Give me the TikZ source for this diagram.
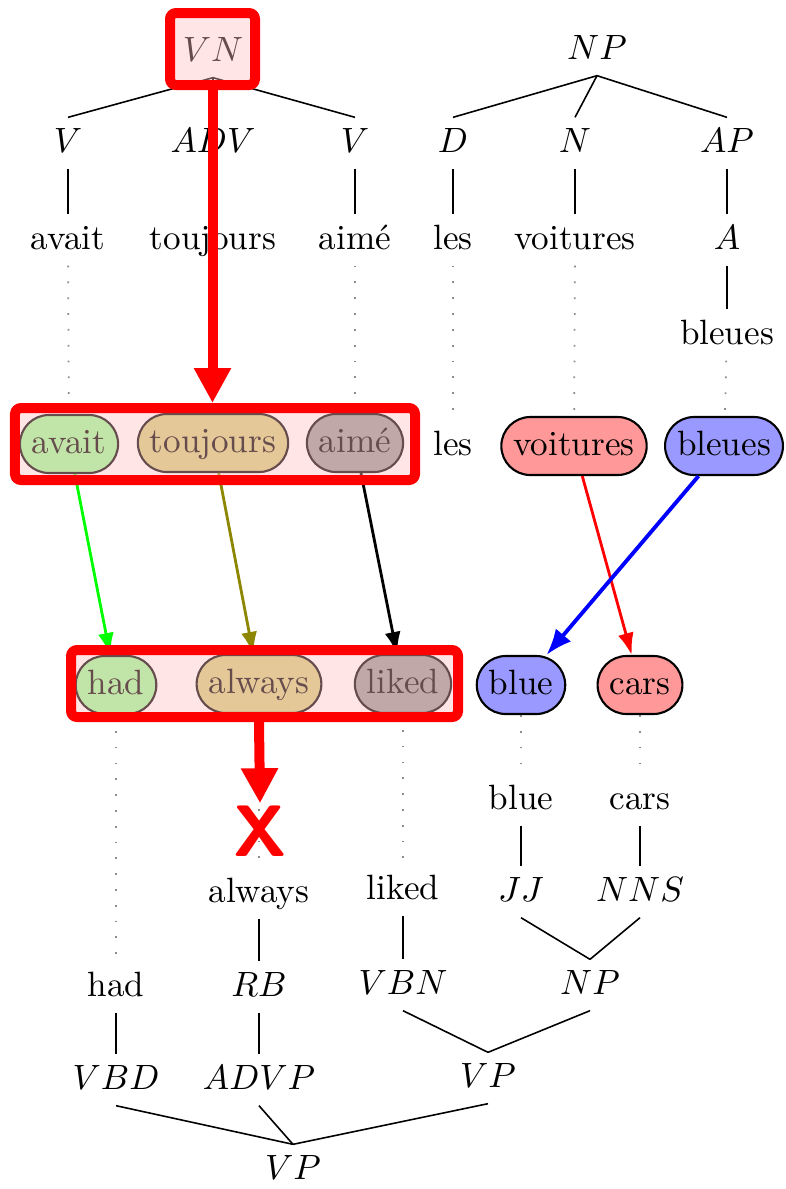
\documentclass[tikz,border=0pt]{standalone}
\usetikzlibrary{arrows.meta}
\begin{document}
\begin{tikzpicture}[lbl/.style={text height=1.5ex,text depth=.25ex},
  wrd/.style={rectangle,rounded corners=2.9mm,draw=black,line width=.6pt,minimum height=5.8mm,inner xsep=1.2mm,text height=1.5ex,text depth=.25ex},
  branch/.style={line width=.45pt},
  trace/.style={black!45,line width=.5pt,dash pattern=on .5pt off 4pt},
  link/.style={line width=.8pt,-{Latex[length=2.2mm,width=1.6mm]}},
  hlbox/.style={draw=red,line width=1mm,fill=red!25,fill opacity=.4,rounded corners=.6mm,inner sep=0pt},
  bigarrow/.style={red,line width=1mm,-{Triangle[width=3.5mm,length=3.5mm]}}]
\useasboundingbox (0,0) rectangle (7.86,-11.89);
\node[lbl] (vn) at (2.13,-.52) {$VN$};
\node[lbl] (v1) at (.68,-1.43) {$V$};
\node[lbl] (adv) at (2.13,-1.43) {$ADV$};
\node[lbl] (v2) at (3.55,-1.43) {$V$};
\node[lbl] (avaitW) at (.68,-2.4) {avait};
\node[lbl] (toujoursW) at (2.13,-2.4) {toujours};
\node[lbl] (aimeW) at (3.55,-2.4) {aimé};
\draw[branch] (vn.south) -- (v1.north);
\draw[branch] (vn.south) -- (adv.north);
\draw[branch] (vn.south) -- (v2.north);
\draw[branch] (v1) -- (avaitW);
\draw[branch] (adv) -- (toujoursW);
\draw[branch] (v2) -- (aimeW);
\node[lbl] (npf) at (5.97,-.5) {$NP$};
\node[lbl] (d) at (4.53,-1.43) {$D$};
\node[lbl] (n) at (5.75,-1.43) {$N$};
\node[lbl] (ap) at (7.27,-1.43) {$AP$};
\node[lbl] (lesW) at (4.53,-2.4) {les};
\node[lbl] (voituresW) at (5.75,-2.4) {voitures};
\node[lbl] (a) at (7.27,-2.4) {$A$};
\node[lbl] (bleuesW) at (7.27,-3.35) {bleues};
\draw[branch] (npf.south) -- (d.north);
\draw[branch] (npf.south) -- (n.north);
\draw[branch] (npf.south) -- (ap.north);
\draw[branch] (d) -- (lesW);
\draw[branch] (n) -- (voituresW);
\draw[branch] (ap) -- (a);
\draw[branch] (a) -- (bleuesW);
\node[wrd,fill=green!40] (avait) at (.69,-4.44) {avait};
\node[wrd,fill=olive!40] (toujours) at (2.13,-4.43) {toujours};
\node[wrd,fill=black!40] (aime) at (3.55,-4.43) {aimé};
\node[lbl] (les) at (4.53,-4.46) {les};
\node[wrd,fill=red!40] (voitures) at (5.74,-4.46) {voitures};
\node[wrd,fill=blue!40] (bleues) at (7.24,-4.46) {bleues};
\draw[trace] (avaitW) -- (avait);
\draw[trace] (toujoursW) -- (toujours);
\draw[trace] (aimeW) -- (aime);
\draw[trace] (lesW) -- (les);
\draw[trace] (voituresW) -- (voitures);
\draw[trace] (bleuesW) -- (bleues);
\node[wrd,fill=green!40] (had) at (1.16,-6.85) {had};
\node[wrd,fill=olive!40] (always) at (2.59,-6.84) {always};
\node[wrd,fill=black!40] (liked) at (4.03,-6.84) {liked};
\node[wrd,fill=blue!40] (blue) at (5.21,-6.85) {blue};
\node[wrd,fill=red!40] (cars) at (6.4,-6.85) {cars};
\draw[link,green] (avait) -- (had);
\draw[link,olive] (toujours) -- (always);
\draw[link,black] (aime) -- (liked);
\draw[link,red] (voitures) -- (cars);
\draw[link,blue,line width=1.1pt,-{Latex[length=2.6mm,width=2mm]}] (bleues) -- (blue);
\node[lbl] (blueW) at (5.21,-8) {blue};
\node[lbl] (carsW) at (6.4,-8) {cars};
\node[lbl] (jj) at (5.21,-8.92) {$JJ$};
\node[lbl] (nns) at (6.4,-8.92) {$NNS$};
\node[lbl] (alwaysW) at (2.59,-8.93) {always};
\node[lbl] (likedW) at (4.03,-8.9) {liked};
\node[lbl] (hadW) at (1.16,-9.87) {had};
\node[lbl] (rb) at (2.59,-9.87) {$RB$};
\node[lbl] (vbn) at (4.03,-9.85) {$VBN$};
\node[lbl] (npe) at (5.9,-9.85) {$NP$};
\node[lbl] (vbd) at (1.16,-10.8) {$VBD$};
\node[lbl] (advp) at (2.59,-10.8) {$ADVP$};
\node[lbl] (vpa) at (4.88,-10.78) {$VP$};
\node[lbl] (vp) at (2.93,-11.7) {$VP$};
\draw[trace] (had) -- (hadW);
\draw[trace] (always) -- (alwaysW);
\draw[trace] (liked) -- (likedW);
\draw[trace] (blue) -- (blueW);
\draw[trace] (cars) -- (carsW);
\draw[branch] (blueW) -- (jj);
\draw[branch] (carsW) -- (nns);
\draw[branch] (jj.south) -- (npe.north);
\draw[branch] (nns.south) -- (npe.north);
\draw[branch] (alwaysW) -- (rb);
\draw[branch] (likedW) -- (vbn);
\draw[branch] (hadW) -- (vbd);
\draw[branch] (rb) -- (advp);
\draw[branch] (vbn.south) -- (vpa.north);
\draw[branch] (npe.south) -- (vpa.north);
\draw[branch] (vbd.south) -- (vp.north);
\draw[branch] (advp.south) -- (vp.north);
\draw[branch] (vpa.south) -- (vp.north);
\node[hlbox,minimum width=8.5mm,minimum height=7.2mm] (vnbox) at (2.125,-.49) {};
\node[hlbox,minimum width=40mm,minimum height=7.2mm] (topbox) at (2.15,-4.44) {};
\node[hlbox,minimum width=38.7mm,minimum height=6.7mm] (botbox) at (2.645,-6.835) {};
\node[text=red,font=\huge\sffamily\bfseries,inner sep=.5pt] (cross) at (2.6,-8.31) {X};
\draw[bigarrow] (vnbox.south) -- (vnbox.south |- topbox.north);
\draw[bigarrow] (always |- botbox.south) -- (cross.north);
\end{tikzpicture}
\end{document}
